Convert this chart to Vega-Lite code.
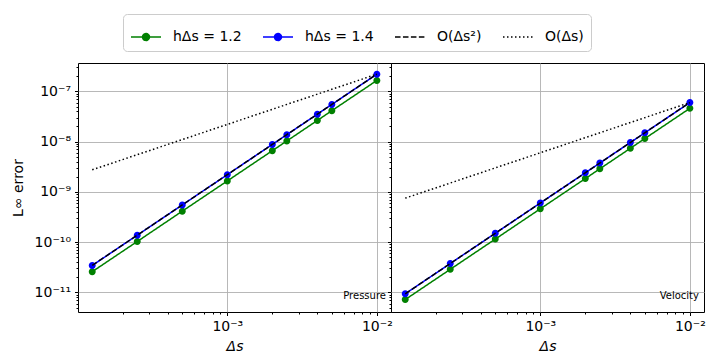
{
  "$schema": "https://vega.github.io/schema/vega-lite/v6.json",
  "autosize": {"type": "pad"},
  "padding": {"left": 10, "top": 13, "right": 16, "bottom": 5},
  "background": "white",
  "datasets": {
    "d": [
      {"panel": "Pressure", "series": "h12", "ds": 0.000125, "err": 2.58e-11},
      {"panel": "Pressure", "series": "h12", "ds": 0.00025, "err": 1.03e-10},
      {"panel": "Pressure", "series": "h12", "ds": 0.0005, "err": 4.13e-10},
      {"panel": "Pressure", "series": "h12", "ds": 0.001, "err": 1.65e-9},
      {"panel": "Pressure", "series": "h12", "ds": 0.002, "err": 6.6e-9},
      {"panel": "Pressure", "series": "h12", "ds": 0.0025, "err": 1.03e-8},
      {"panel": "Pressure", "series": "h12", "ds": 0.004, "err": 2.64e-8},
      {"panel": "Pressure", "series": "h12", "ds": 0.005, "err": 4.13e-8},
      {"panel": "Pressure", "series": "h12", "ds": 0.01, "err": 1.65e-7},
      {"panel": "Pressure", "series": "h14", "ds": 0.000125, "err": 3.44e-11},
      {"panel": "Pressure", "series": "h14", "ds": 0.00025, "err": 1.375e-10},
      {"panel": "Pressure", "series": "h14", "ds": 0.0005, "err": 5.5e-10},
      {"panel": "Pressure", "series": "h14", "ds": 0.001, "err": 2.2e-9},
      {"panel": "Pressure", "series": "h14", "ds": 0.002, "err": 8.8e-9},
      {"panel": "Pressure", "series": "h14", "ds": 0.0025, "err": 1.375e-8},
      {"panel": "Pressure", "series": "h14", "ds": 0.004, "err": 3.52e-8},
      {"panel": "Pressure", "series": "h14", "ds": 0.005, "err": 5.5e-8},
      {"panel": "Pressure", "series": "h14", "ds": 0.01, "err": 2.2e-7},
      {"panel": "Pressure", "series": "O2", "ds": 0.000125, "err": 3.44e-11},
      {"panel": "Pressure", "series": "O2", "ds": 0.01, "err": 2.2e-7},
      {"panel": "Pressure", "series": "O1", "ds": 0.000125, "err": 2.75e-9},
      {"panel": "Pressure", "series": "O1", "ds": 0.01, "err": 2.2e-7},
      {"panel": "Velocity", "series": "h12", "ds": 0.000125, "err": 7.19e-12},
      {"panel": "Velocity", "series": "h12", "ds": 0.00025, "err": 2.875e-11},
      {"panel": "Velocity", "series": "h12", "ds": 0.0005, "err": 1.15e-10},
      {"panel": "Velocity", "series": "h12", "ds": 0.001, "err": 4.6e-10},
      {"panel": "Velocity", "series": "h12", "ds": 0.002, "err": 1.84e-9},
      {"panel": "Velocity", "series": "h12", "ds": 0.0025, "err": 2.875e-9},
      {"panel": "Velocity", "series": "h12", "ds": 0.004, "err": 7.36e-9},
      {"panel": "Velocity", "series": "h12", "ds": 0.005, "err": 1.15e-8},
      {"panel": "Velocity", "series": "h12", "ds": 0.01, "err": 4.6e-8},
      {"panel": "Velocity", "series": "h14", "ds": 0.000125, "err": 9.375e-12},
      {"panel": "Velocity", "series": "h14", "ds": 0.00025, "err": 3.75e-11},
      {"panel": "Velocity", "series": "h14", "ds": 0.0005, "err": 1.5e-10},
      {"panel": "Velocity", "series": "h14", "ds": 0.001, "err": 6e-10},
      {"panel": "Velocity", "series": "h14", "ds": 0.002, "err": 2.4e-9},
      {"panel": "Velocity", "series": "h14", "ds": 0.0025, "err": 3.75e-9},
      {"panel": "Velocity", "series": "h14", "ds": 0.004, "err": 9.6e-9},
      {"panel": "Velocity", "series": "h14", "ds": 0.005, "err": 1.5e-8},
      {"panel": "Velocity", "series": "h14", "ds": 0.01, "err": 6e-8},
      {"panel": "Velocity", "series": "O2", "ds": 0.000125, "err": 9.375e-12},
      {"panel": "Velocity", "series": "O2", "ds": 0.01, "err": 6e-8},
      {"panel": "Velocity", "series": "O1", "ds": 0.000125, "err": 7.5e-10},
      {"panel": "Velocity", "series": "O1", "ds": 0.01, "err": 6e-8}
    ],
    "labels": [
      {"panel": "Pressure", "ds": 0.0115, "err": 8.5e-12, "text": "Pressure"},
      {"panel": "Velocity", "ds": 0.0115, "err": 8.5e-12, "text": "Velocity"}
    ]
  },
  "spacing": 0,
  "bounds": "flush",
  "resolve": {"scale": {"x": "shared", "y": "shared", "color": "shared", "strokeDash": "shared", "shape": "shared"}},
  "hconcat": [
    {
      "width": 313,
      "height": 249,
      "resolve": {"axis": {"x": "independent", "y": "independent"}},
      "layer": [
        {
          "data": {"name": "d"},
          "transform": [{"filter": "datum.panel == 'Pressure' && (datum.series == 'h12' || datum.series == 'h14')"}],
          "mark": {"type": "line", "strokeWidth": 1.5},
          "encoding": {
            "x": {"field": "ds", "type": "quantitative", "scale": {"type": "log", "domain": [0.0001004, 0.01243], "nice": false},
              "axis": {"orient": "bottom", "values": [0.001, 0.01], "grid": true, "title": "Δs", "titleFontStyle": "italic", "tickSize": 3.5, "labelPadding": 4, "titlePadding": 6,
                "labelExpr": "datum.value > 0.005 ? '10⁻²' : '10⁻³'"}},
            "y": {"field": "err", "type": "quantitative", "scale": {"type": "log", "domain": [4.07e-12, 3.67e-7], "nice": false},
              "axis": {"orient": "left", "values": [1e-11, 1e-10, 1e-9, 1e-8, 1e-7], "grid": true, "title": "L∞ error", "tickSize": 3.5, "labelPadding": 4, "titlePadding": 9,
                "labelExpr": "datum.value > 5e-8 ? '10⁻⁷' : datum.value > 5e-9 ? '10⁻⁸' : datum.value > 5e-10 ? '10⁻⁹' : datum.value > 5e-11 ? '10⁻¹⁰' : '10⁻¹¹'"}},
            "color": {"field": "series", "type": "nominal",
              "scale": {"domain": ["h12", "h14", "O2", "O1"], "range": ["green", "blue", "black", "black"]},
              "legend": {"orient": "none", "legendX": 45, "legendY": -49, "direction": "horizontal", "title": null,
                "labelExpr": "datum.value == 'h12' ? 'hΔs = 1.2' : datum.value == 'h14' ? 'hΔs = 1.4' : datum.value == 'O2' ? 'O(Δs²)' : 'O(Δs)'",
                "symbolSize": 900, "symbolStrokeWidth": 1.5, "labelFontSize": 14, "labelFont": "DejaVu Sans", "labelColor": "black",
                "columnPadding": 18, "labelOffset": 11, "padding": 7, "strokeColor": "#cccccc", "cornerRadius": 4, "fillColor": "white"}},
            "strokeDash": {"field": "series", "type": "nominal",
              "scale": {"domain": ["h12", "h14", "O2", "O1"], "range": [[1, 0], [1, 0], [5.55, 2.4], [1.5, 2.5]]},
              "legend": {"orient": "none", "legendX": 45, "legendY": -49, "direction": "horizontal", "title": null,
                "labelExpr": "datum.value == 'h12' ? 'hΔs = 1.2' : datum.value == 'h14' ? 'hΔs = 1.4' : datum.value == 'O2' ? 'O(Δs²)' : 'O(Δs)'",
                "symbolSize": 900, "symbolStrokeWidth": 1.5, "labelFontSize": 14, "labelFont": "DejaVu Sans", "labelColor": "black",
                "columnPadding": 18, "labelOffset": 11, "padding": 7, "strokeColor": "#cccccc", "cornerRadius": 4, "fillColor": "white"}}
          }
        },
        {
          "data": {"name": "d"},
          "transform": [{"filter": "datum.panel == 'Pressure' && (datum.series == 'h12' || datum.series == 'h14')"}],
          "mark": {"type": "point", "filled": true, "opacity": 1, "size": 925},
          "encoding": {
            "x": {"field": "ds", "type": "quantitative",
              "axis": {"orient": "bottom", "values": [0.0002, 0.0003, 0.0004, 0.0005, 0.0006, 0.0007, 0.0008, 0.0009, 0.002, 0.003, 0.004, 0.005, 0.006, 0.007, 0.008, 0.009], "grid": false, "labels": false, "title": null, "tickSize": 2}},
            "y": {"field": "err", "type": "quantitative",
              "axis": {"orient": "left", "values": [5e-12, 6e-12, 7e-12, 8e-12, 9e-12, 2e-11, 3e-11, 4e-11, 5e-11, 6e-11, 7e-11, 8e-11, 9e-11, 2e-10, 3e-10, 4e-10, 5e-10, 6e-10, 7e-10, 8e-10, 9e-10, 2e-9, 3e-9, 4e-9, 5e-9, 6e-9, 7e-9, 8e-9, 9e-9, 2e-8, 3e-8, 4e-8, 5e-8, 6e-8, 7e-8, 8e-8, 9e-8, 2e-7, 3e-7], "grid": false, "labels": false, "title": null, "tickSize": 2}},
            "color": {"field": "series", "type": "nominal"},
            "shape": {"field": "series", "type": "nominal",
              "scale": {"domain": ["h12", "h14", "O2", "O1"], "range": ["M-1,0L1,0M0.23,0A0.23,0.23 0 1,1 -0.23,0A0.23,0.23 0 1,1 0.23,0Z", "M-1,0L1,0M0.23,0A0.23,0.23 0 1,1 -0.23,0A0.23,0.23 0 1,1 0.23,0Z", "M-1,0L1,0", "M-1,0L1,0"]},
              "legend": {"orient": "none", "legendX": 45, "legendY": -49, "direction": "horizontal", "title": null,
                "labelExpr": "datum.value == 'h12' ? 'hΔs = 1.2' : datum.value == 'h14' ? 'hΔs = 1.4' : datum.value == 'O2' ? 'O(Δs²)' : 'O(Δs)'",
                "symbolSize": 900, "symbolStrokeWidth": 1.5, "labelFontSize": 14, "labelFont": "DejaVu Sans", "labelColor": "black",
                "columnPadding": 18, "labelOffset": 11, "padding": 7, "strokeColor": "#cccccc", "cornerRadius": 4, "fillColor": "white"}}
          }
        },
        {
          "data": {"name": "d"},
          "transform": [{"filter": "datum.panel == 'Pressure' && (datum.series == 'O2' || datum.series == 'O1')"}],
          "mark": {"type": "line", "strokeWidth": 1.5},
          "encoding": {
            "x": {"field": "ds", "type": "quantitative", "axis": null},
            "y": {"field": "err", "type": "quantitative",
              "axis": {"orient": "right", "values": [1e-11, 1e-10, 1e-9, 1e-8, 1e-7], "grid": false, "labels": false, "title": null, "tickSize": -3.5}},
            "color": {"field": "series", "type": "nominal"},
            "strokeDash": {"field": "series", "type": "nominal"}
          }
        },
        {
          "data": {"name": "labels"},
          "transform": [{"filter": "datum.panel == 'Pressure'"}],
          "mark": {"type": "text", "align": "right", "baseline": "middle", "fontSize": 10, "font": "DejaVu Sans", "color": "black"},
          "encoding": {
            "x": {"field": "ds", "type": "quantitative", "axis": null},
            "y": {"field": "err", "type": "quantitative",
              "axis": {"orient": "right", "values": [5e-12, 6e-12, 7e-12, 8e-12, 9e-12, 2e-11, 3e-11, 4e-11, 5e-11, 6e-11, 7e-11, 8e-11, 9e-11, 2e-10, 3e-10, 4e-10, 5e-10, 6e-10, 7e-10, 8e-10, 9e-10, 2e-9, 3e-9, 4e-9, 5e-9, 6e-9, 7e-9, 8e-9, 9e-9, 2e-8, 3e-8, 4e-8, 5e-8, 6e-8, 7e-8, 8e-8, 9e-8, 2e-7, 3e-7], "grid": false, "labels": false, "title": null, "tickSize": -2}},
            "text": {"field": "text"}
          }
        }
      ]
    },
    {
      "width": 313,
      "height": 249,
      "resolve": {"axis": {"x": "independent", "y": "independent"}},
      "layer": [
        {
          "data": {"name": "d"},
          "transform": [{"filter": "datum.panel == 'Velocity' && (datum.series == 'h12' || datum.series == 'h14')"}],
          "mark": {"type": "line", "strokeWidth": 1.5},
          "encoding": {
            "x": {"field": "ds", "type": "quantitative", "scale": {"type": "log", "domain": [0.0001004, 0.01243], "nice": false},
              "axis": {"orient": "bottom", "values": [0.001, 0.01], "grid": true, "title": "Δs", "titleFontStyle": "italic", "tickSize": 3.5, "labelPadding": 4, "titlePadding": 6,
                "labelExpr": "datum.value > 0.005 ? '10⁻²' : '10⁻³'"}},
            "y": {"field": "err", "type": "quantitative", "scale": {"type": "log", "domain": [4.07e-12, 3.67e-7], "nice": false},
              "axis": {"orient": "left", "values": [1e-11, 1e-10, 1e-9, 1e-8, 1e-7], "grid": true, "title": null, "labels": false, "ticks": false}},
            "color": {"field": "series", "type": "nominal"},
            "strokeDash": {"field": "series", "type": "nominal"}
          }
        },
        {
          "data": {"name": "d"},
          "transform": [{"filter": "datum.panel == 'Velocity' && (datum.series == 'h12' || datum.series == 'h14')"}],
          "mark": {"type": "point", "filled": true, "opacity": 1, "size": 925},
          "encoding": {
            "x": {"field": "ds", "type": "quantitative",
              "axis": {"orient": "bottom", "values": [0.0002, 0.0003, 0.0004, 0.0005, 0.0006, 0.0007, 0.0008, 0.0009, 0.002, 0.003, 0.004, 0.005, 0.006, 0.007, 0.008, 0.009], "grid": false, "labels": false, "title": null, "tickSize": 2}},
            "y": {"field": "err", "type": "quantitative", "axis": null},
            "color": {"field": "series", "type": "nominal"},
            "shape": {"field": "series", "type": "nominal"}
          }
        },
        {
          "data": {"name": "d"},
          "transform": [{"filter": "datum.panel == 'Velocity' && (datum.series == 'O2' || datum.series == 'O1')"}],
          "mark": {"type": "line", "strokeWidth": 1.5},
          "encoding": {
            "x": {"field": "ds", "type": "quantitative", "axis": null},
            "y": {"field": "err", "type": "quantitative", "axis": null},
            "color": {"field": "series", "type": "nominal"},
            "strokeDash": {"field": "series", "type": "nominal"}
          }
        },
        {
          "data": {"name": "labels"},
          "transform": [{"filter": "datum.panel == 'Velocity'"}],
          "mark": {"type": "text", "align": "right", "baseline": "middle", "fontSize": 10, "font": "DejaVu Sans", "color": "black"},
          "encoding": {
            "x": {"field": "ds", "type": "quantitative", "axis": null},
            "y": {"field": "err", "type": "quantitative", "axis": null},
            "text": {"field": "text"}
          }
        }
      ]
    }
  ],
  "config": {
    "font": "DejaVu Sans",
    "view": {"stroke": "black", "strokeWidth": 1},
    "axis": {"domain": false, "tickColor": "black", "tickWidth": 1, "labelColor": "black", "labelFontSize": 14, "labelFont": "DejaVu Sans",
      "titleFont": "DejaVu Sans", "titleFontSize": 14, "titleFontWeight": "normal", "titleColor": "black", "gridColor": "#b0b0b0", "gridWidth": 0.9}
  }
}
